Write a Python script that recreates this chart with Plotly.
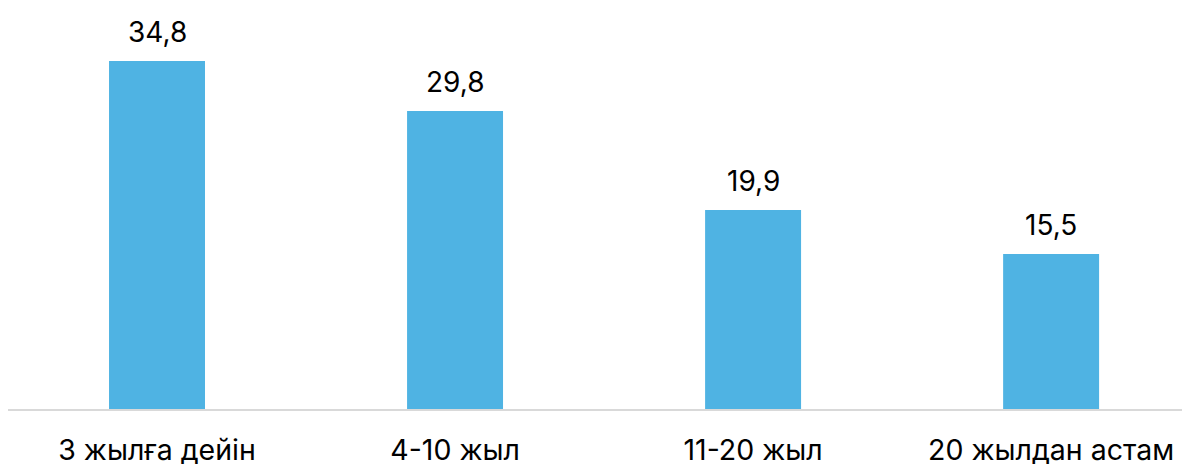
import plotly.graph_objects as go

categories = ["3 жылға дейін", "4-10 жыл", "11-20 жыл", "20 жылдан астам"]
values = [34.8, 29.8, 19.9, 15.5]
value_labels = ["34,8", "29,8", "19,9", "15,5"]

BAR_COLOR = "#4FB3E3"
FONT = "Inter, Roboto, sans-serif"

fig = go.Figure()
fig.add_trace(go.Bar(
    x=list(range(len(categories))),
    y=values,
    width=0.322,
    marker=dict(color=BAR_COLOR, line=dict(width=0)),
    hoverinfo="skip",
))

for i, (v, t) in enumerate(zip(values, value_labels)):
    fig.add_annotation(x=i, y=v, text=t, showarrow=False, yanchor="middle",
                       yshift=29, font=dict(family=FONT, size=28, color="#000000"))

fig.update_layout(
    width=1182, height=456,
    margin=dict(l=0, r=0, t=12, b=55),
    paper_bgcolor="white", plot_bgcolor="white",
    showlegend=False,
    font=dict(family=FONT, size=28, color="#000000"),
    xaxis=dict(
        range=[-0.5, 3.466],
        tickmode="array",
        tickvals=list(range(len(categories))),
        ticktext=categories,
        showgrid=False, zeroline=False,
        showline=True, linecolor="#D9D9D9", linewidth=2,
        ticks="", ticklabelstandoff=15,
        tickfont=dict(family=FONT, size=28.5, color="#000000"),
        automargin=False,
    ),
    yaxis=dict(
        range=[0, 38.9],
        visible=False, showgrid=False, zeroline=False,
    ),
)

fig.write_html("out.html")
